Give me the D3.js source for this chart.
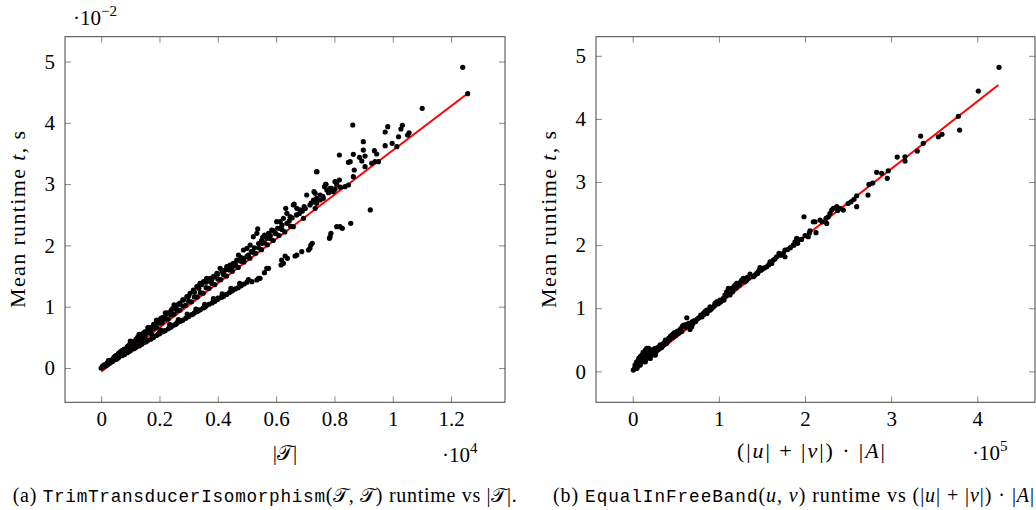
<!DOCTYPE html>
<html>
<head>
<meta charset="utf-8">
<script src="https://cdn.jsdelivr.net/npm/d3@7"></script>
<style>
body { margin: 0; background: #fff; }
svg { display: block; }
text { font-family: "Liberation Serif", serif; fill: #000; }
.mono { font-family: "Liberation Mono", monospace; font-size: 17.7px; }
</style>
</head>
<body>
<svg id="chart" width="1036" height="510"></svg>
<script>
// (a) |T| in units of 1e4, mean runtime in units of 1e-2 s
const runsA = [
  // lower branch, dense part
  [0.00,0.00],[0.01,0.02],[0.015,0.04],[0.02,0.05],[0.03,0.08],[0.035,0.10],[0.04,0.11],[0.05,0.14],
  [0.055,0.15],[0.06,0.17],[0.07,0.20],[0.075,0.21],[0.08,0.22],[0.09,0.25],[0.095,0.27],[0.10,0.28],
  [0.11,0.31],[0.115,0.32],[0.12,0.34],[0.13,0.36],[0.135,0.38],[0.14,0.39],[0.15,0.42],[0.155,0.43],
  [0.16,0.45],[0.17,0.47],[0.175,0.49],[0.18,0.50],[0.19,0.53],[0.195,0.55],[0.20,0.56],[0.21,0.59],
  [0.215,0.60],[0.22,0.61],[0.23,0.64],[0.235,0.66],[0.24,0.67],[0.25,0.70],[0.255,0.71],[0.26,0.73],
  [0.27,0.76],[0.275,0.77],[0.28,0.78],[0.29,0.81],[0.295,0.83],[0.30,0.84],[0.31,0.87],[0.315,0.88],
  [0.32,0.90],[0.33,0.92],[0.335,0.94],[0.34,0.95],[0.35,0.98],[0.355,0.99],[0.36,1.01],[0.37,1.04],
  [0.38,1.06],[0.385,1.08],[0.39,1.09],[0.40,1.12],[0.41,1.15],[0.415,1.16],[0.42,1.17],[0.43,1.20],
  [0.44,1.23],[0.445,1.25],[0.45,1.26],[0.46,1.29],[0.47,1.31],[0.48,1.34],[0.49,1.37],[0.50,1.40],
  [0.05,0.16],[0.12,0.36],[0.20,0.58],[0.26,0.74],[0.33,0.95],[0.40,1.14],[0.45,1.28],
  [0.025,0.12],[0.055,0.20],[0.085,0.29],[0.115,0.37],[0.145,0.46],[0.175,0.54],[0.205,0.62],
  [0.235,0.71],[0.265,0.79],[0.295,0.88],[0.325,0.96],[0.355,1.04],[0.385,1.13],[0.415,1.21],
  [0.445,1.30],[0.475,1.38],[0.505,1.44],
  // lower branch, sparse part
  [0.517,1.408],[0.534,1.436],[0.540,1.463],[0.545,1.463],[0.560,1.555],[0.568,1.626],[0.574,1.626],
  [0.617,1.68],[0.619,1.762],[0.625,1.708],[0.631,1.827],[0.639,1.789],[0.665,1.827],[0.671,1.843],
  [0.688,1.897],[0.711,1.925],[0.716,1.953],[0.719,2.006],[0.724,2.034],[0.783,2.116],[0.785,2.142],
  [0.788,2.197],[0.808,2.305],[0.819,2.305],[0.827,2.279],[0.856,2.36],[0.923,2.578],
  // upper branch, dense part
  [0.005,0.03],[0.01,0.05],[0.02,0.08],[0.025,0.10],[0.03,0.12],[0.04,0.15],[0.045,0.18],[0.05,0.20],
  [0.06,0.23],[0.065,0.26],[0.07,0.28],[0.075,0.29],[0.08,0.31],[0.09,0.35],[0.095,0.37],[0.10,0.40],
  [0.105,0.41],[0.11,0.43],[0.12,0.47],[0.125,0.50],[0.13,0.51],[0.14,0.55],[0.145,0.57],[0.15,0.59],
  [0.16,0.62],[0.165,0.65],[0.17,0.66],[0.18,0.71],[0.185,0.72],[0.19,0.74],[0.20,0.78],[0.205,0.81],
  [0.21,0.82],[0.22,0.86],[0.225,0.89],[0.23,0.90],[0.24,0.94],[0.245,0.97],[0.25,0.98],[0.26,1.02],
  [0.265,1.04],[0.27,1.06],[0.28,1.11],[0.10,0.44],[0.13,0.55],[0.16,0.66],[0.19,0.78],[0.22,0.90],
  [0.25,1.03],
  [0.05,0.17],[0.07,0.24],[0.09,0.32],[0.11,0.38],[0.13,0.46],[0.15,0.52],[0.17,0.60],[0.19,0.66],
  [0.21,0.74],[0.23,0.80],[0.25,0.88],[0.27,0.94],[0.29,1.02],[0.31,1.08],[0.33,1.16],[0.35,1.22],
  [0.37,1.30],[0.39,1.36],[0.41,1.44],[0.43,1.50],[0.45,1.58],[0.47,1.64],[0.49,1.73],[0.51,1.79],
  [0.53,1.87],[0.55,1.93],[0.57,2.01],[0.59,2.08],[0.61,2.16],[0.63,2.22],[0.65,2.31],
  [0.06,0.24],[0.08,0.30],[0.10,0.37],[0.12,0.44],[0.14,0.51],[0.16,0.58],[0.18,0.65],[0.20,0.73],
  [0.22,0.80],[0.24,0.87],[0.26,0.94],[0.28,1.01],[0.30,1.09],[0.32,1.16],[0.34,1.23],[0.36,1.31],
  [0.38,1.38],[0.40,1.45],[0.42,1.52],[0.44,1.60],[0.46,1.67],[0.48,1.74],[0.50,1.82],[0.52,1.89],
  [0.54,1.96],[0.56,2.04],[0.58,2.11],[0.60,2.19],[0.62,2.26],
  [0.282,1.109],[0.294,1.163],[0.305,1.218],[0.316,1.272],[0.328,1.326],[0.339,1.381],[0.351,1.408],
  [0.362,1.463],[0.374,1.463],[0.385,1.489],[0.397,1.545],[0.408,1.626],[0.425,1.599],[0.431,1.653],
  [0.442,1.68],[0.453,1.708],[0.465,1.762],[0.471,1.843],[0.505,1.843],[0.488,1.925],[0.5,1.953],
  [0.30,1.17],[0.32,1.24],[0.335,1.30],[0.345,1.36],[0.36,1.40],[0.37,1.42],[0.38,1.45],[0.39,1.50],
  [0.40,1.53],[0.415,1.58],[0.42,1.55],[0.435,1.62],[0.45,1.65],[0.46,1.70],[0.475,1.75],[0.48,1.80],
  [0.49,1.79],[0.515,1.90],[0.525,1.96],[0.54,2.03],[0.55,2.08],[0.56,2.17],[0.58,2.16],[0.59,2.24],
  [0.605,2.28],[0.62,2.33],[0.645,2.40],[0.655,2.45],[0.67,2.50],[0.68,2.52],[0.69,2.56],[0.70,2.60],
  [0.72,2.69],[0.74,2.76],[0.76,2.80],[0.78,2.86],[0.79,2.93],[0.82,2.95],
  // upper branch, spread part
  [0.511,2.006],[0.551,2.034],[0.522,2.142],[0.534,2.197],[0.537,2.268],[0.554,2.132],[0.568,2.116],
  [0.574,2.197],[0.597,2.197],[0.585,2.251],[0.614,2.279],[0.602,2.387],[0.614,2.387],[0.659,2.305],
  [0.637,2.360],[0.625,2.442],[0.648,2.468],[0.637,2.524],[0.633,2.605],[0.696,2.631],[0.682,2.578],
  [0.671,2.605],[0.662,2.675],[0.716,2.659],[0.739,2.687],[0.751,2.741],[0.728,2.741],[0.705,2.822],
  [0.734,2.85],[0.796,2.876],[0.808,2.985],[0.802,3.04],[0.774,2.904],[0.770,2.997],[0.739,3.203],
  [0.730,2.876],[0.762,2.768],[0.739,2.768],[0.728,2.713],[0.734,2.605],[0.659,2.659],[0.671,2.496],
  [0.694,2.442],[0.751,2.822],
  [0.817,3.067],[0.808,3.029],[0.848,2.985],[0.836,2.958],[0.771,2.997],[0.766,2.958],[0.785,2.931],
  [0.802,2.915],[0.865,3.121],[0.740,3.203],[0.868,3.230],[0.905,3.284],[0.928,3.339],[0.939,3.366],
  [0.951,3.366],[0.848,3.356],[0.854,3.366],[0.886,3.437],[0.905,3.458],[0.894,3.377],[0.817,3.475],
  [0.865,3.486],[0.937,3.545],[0.945,3.491],[0.899,3.556],[0.998,3.666],[1.014,3.610],[0.974,3.627],
  [0.899,3.692],[1.020,3.773],[0.974,3.85],[1.056,3.838],[1.051,3.801],[1.033,3.959],[1.028,3.899],
  [0.983,3.937],[0.863,3.964],[1.101,4.236],[1.240,4.905],[1.257,4.475]
];
const fitA = { intercept: -0.06, slope: 3.61, from: 0, to: 1.257 };
const xTicksA = [0, 0.2, 0.4, 0.6, 0.8, 1, 1.2];
const yTicksA = [0, 1, 2, 3, 4, 5];

// (b) (|u|+|v|)*|A| in units of 1e5, mean runtime in s
const runsB = [
  [0.007,0.02],[0.027,0.10],[0.03,0.073],[0.046,0.152],[0.05,0.048],[0.07,0.127],[0.07,0.206],
  [0.085,0.206],[0.088,0.10],[0.108,0.179],[0.108,0.258],[0.123,0.258],[0.143,0.311],[0.147,0.338],
  [0.147,0.231],[0.147,0.152],[0.163,0.364],[0.174,0.338],[0.181,0.285],[0.185,0.364],[0.185,0.258],
  [0.204,0.206],[0.224,0.311],[0.239,0.349],[0.263,0.364],[0.263,0.258],[0.279,0.364],[0.301,0.39],
  [0.337,0.38],[0.340,0.417],[0.379,0.496],[0.395,0.444],[0.413,0.496],[0.418,0.523],[0.433,0.539],
  [0.456,0.575],[0.471,0.591],[0.495,0.602],[0.511,0.628],[0.549,0.654],[0.553,0.654],[0.592,0.707],
  [0.596,0.734],[0.628,0.85],[0.650,0.761],[0.665,0.665],[0.685,0.707],[0.688,0.786],[0.746,0.824],
  [0.804,0.865],[0.820,0.919],[0.859,0.971],[0.862,0.919],[0.898,1.024],[0.901,0.971],[0.936,1.024],
  [0.955,1.077],[0.975,1.103],[0.998,1.078],[1.013,1.130],[1.037,1.130],[1.052,1.157],[1.071,1.21],
  [1.091,1.262],[1.110,1.315],[1.114,1.236],[1.129,1.21],[1.149,1.315],[1.187,1.368],[1.207,1.395],
  [1.226,1.395],[1.265,1.447],[1.284,1.474],[1.303,1.420],[1.342,1.474],[1.362,1.542],[1.420,1.526],
  [1.439,1.553],[1.458,1.578],[1.478,1.643],[1.497,1.605],[1.516,1.632],[1.555,1.658],[1.594,1.737],
  [1.614,1.711],[1.632,1.764],[1.671,1.816],[1.698,1.870],[1.748,1.870],[1.768,1.922],[1.768,1.816],
  [1.864,2.002],[1.884,2.054],[1.904,2.108],[1.915,2.029],[1.922,2.092],[1.988,2.45],[2.038,2.133],
  [2.058,2.228],[2.096,2.371],[2.116,2.371],[2.128,2.197],[2.174,2.398],[2.244,2.425],[2.252,2.345],
  [2.29,2.504],[2.31,2.556],[2.329,2.583],[2.368,2.609],[2.406,2.583],[2.445,2.556],[2.534,2.688],
  [2.569,2.726],[2.6,2.783],[2.6,2.609],[2.731,2.794],[2.743,2.963],[2.786,2.984],[2.832,3.154],
  [2.89,3.138],[2.955,3.059],[2.967,3.179],[3.071,3.396],[3.161,3.401],[3.161,3.333],[3.304,3.491],
  [3.343,3.729],[3.373,3.613],[3.548,3.718],[3.590,3.756],[3.780,4.041],[3.795,3.824],[4.012,4.442],
  [4.252,4.818],
  [0.02,0.04],[0.035,0.06],[0.04,0.12],[0.055,0.09],[0.06,0.16],[0.075,0.10],[0.08,0.15],[0.09,0.24],
  [0.095,0.14],[0.10,0.20],[0.115,0.17],[0.12,0.30],[0.13,0.22],[0.135,0.19],[0.155,0.27],[0.16,0.21],
  [0.17,0.30],[0.195,0.24],[0.20,0.33],[0.215,0.27],[0.23,0.26],[0.25,0.30],[0.27,0.31],[0.29,0.34],
  [0.31,0.36],[0.32,0.42],[0.35,0.41],[0.36,0.45],[0.37,0.43],[0.40,0.47],[0.43,0.50],[0.44,0.56],
  [0.47,0.54],[0.48,0.61],[0.50,0.57],[0.52,0.64],[0.53,0.60],[0.56,0.68],[0.57,0.63],[0.58,0.72],
  [0.61,0.70],[0.62,0.74],[0.64,0.72],[0.67,0.74],[0.70,0.76],[0.71,0.80],[0.73,0.79],[0.76,0.84],
  [0.78,0.86],[0.79,0.89],[0.83,0.90],[0.84,0.95],[0.88,0.97],[0.92,1.00],[0.95,1.04],[0.99,1.07],
  [1.02,1.10],[1.06,1.13],[1.08,1.19],[1.12,1.22],[1.16,1.26],[1.17,1.33],[1.20,1.32],[1.24,1.37],
  [1.25,1.41],[1.32,1.44],[1.33,1.49],[1.40,1.50],[1.45,1.55],[1.47,1.60],[1.53,1.64],[1.58,1.69],
  [1.65,1.78],[1.72,1.84],[1.80,1.93],[1.83,1.96],[1.87,2.00],[1.96,2.09],[2.00,2.15],[2.05,2.19],
  [2.20,2.37],[2.27,2.45],[2.38,2.55],[2.50,2.66]
];
const fitB = { intercept: 0, slope: 1.069, from: 0, to: 4.244 };
const xTicksB = [0, 1, 2, 3, 4];
const yTicksB = [0, 1, 2, 3, 4, 5];

const svg = d3.select("#chart");

function style_axis(g) {
  g.select(".domain").remove();
  g.attr("font-size", 21).attr("font-family", "Liberation Serif, serif");
  g.selectAll(".tick line").attr("stroke", "#888");
}

function draw_panel(p) {
  let x = d3.scaleLinear().domain(p.xDomain).range([p.left, p.right]);
  let y = d3.scaleLinear().domain(p.yDomain).range([p.bottom, p.top]);
  let g = svg.append("g");
  let fmt = d => String(d);

  g.append("g").attr("transform", `translate(0,${p.bottom})`)
    .call(d3.axisBottom(x).tickValues(p.xTicks).tickSize(-6).tickPadding(9).tickFormat(fmt))
    .call(style_axis);
  g.append("g").attr("transform", `translate(0,${p.top})`)
    .call(d3.axisTop(x).tickValues(p.xTicks).tickSize(-6).tickFormat(""))
    .call(style_axis);
  g.append("g").attr("transform", `translate(${p.left},0)`)
    .call(d3.axisLeft(y).tickValues(p.yTicks).tickSize(-6).tickPadding(10).tickFormat(fmt))
    .call(style_axis);
  g.append("g").attr("transform", `translate(${p.right},0)`)
    .call(d3.axisRight(y).tickValues(p.yTicks).tickSize(-6).tickFormat(""))
    .call(style_axis);

  let line = d3.line().x(d => x(d)).y(d => y(p.fit.intercept + p.fit.slope * d));
  g.append("path").datum([p.fit.from, p.fit.to])
    .attr("d", line).attr("fill", "none").attr("stroke", "#ff0000").attr("stroke-width", 2);

  g.append("g").selectAll("circle")
    .data(p.runs).enter()
    .append("circle")
    .attr("cx", d => x(d[0])).attr("cy", d => y(d[1]))
    .attr("r", 2.6).attr("fill", "#000");

  g.append("rect")
    .attr("x", p.left).attr("y", p.top)
    .attr("width", p.right - p.left).attr("height", p.bottom - p.top)
    .attr("fill", "none").attr("stroke", "#444").attr("stroke-width", 1);

  // y label
  let yl = g.append("text")
    .attr("transform", `translate(${p.yLabelX},${(p.top + p.bottom) / 2}) rotate(-90)`)
    .attr("text-anchor", "middle").attr("font-size", 22)
    .attr("textLength", 177).attr("lengthAdjust", "spacing");
  yl.append("tspan").text("Mean runtime ");
  yl.append("tspan").attr("font-style", "italic").text("t");
  yl.append("tspan").text(", s");
  return g;
}

function multiplier(x, y, exp) {
  let t = svg.append("text").attr("x", x).attr("y", y).attr("font-size", 21);
  t.append("tspan").text("\u00b710");
  t.append("tspan").attr("font-size", 15).attr("dy", -9).text(exp);
}

draw_panel({
  runs: runsA, fit: fitA, xTicks: xTicksA, yTicks: yTicksA,
  xDomain: [-0.124, 1.385], yDomain: [-0.56, 5.405],
  left: 65, right: 505, top: 36.7, bottom: 402.3, yLabelX: 25
});
draw_panel({
  runs: runsB, fit: fitB, xTicks: xTicksB, yTicks: yTicksB,
  xDomain: [-0.426, 4.67], yDomain: [-0.49, 5.303],
  left: 596, right: 1035, top: 36.7, bottom: 402.3, yLabelX: 556
});

multiplier(73, 25, "\u22122");
multiplier(442, 462, "4");
multiplier(972, 460, "5");

// x labels
let xa = svg.append("text").attr("x", 285).attr("y", 460).attr("text-anchor", "middle").attr("font-size", 21);
xa.append("tspan").text("|\ud835\udcaf|");

let xb = svg.append("text").attr("x", 811).attr("y", 458).attr("text-anchor", "middle").attr("font-size", 22)
  .attr("textLength", 148).attr("lengthAdjust", "spacing");
xb.append("tspan").text("(|");
xb.append("tspan").attr("font-style", "italic").text("u");
xb.append("tspan").text("| + |");
xb.append("tspan").attr("font-style", "italic").text("v");
xb.append("tspan").text("|) \u00b7 |");
xb.append("tspan").attr("font-style", "italic").text("A");
xb.append("tspan").text("|");

// captions
let ca = svg.append("text").attr("x", 12.7).attr("y", 502).attr("font-size", 20)
  .attr("textLength", 504).attr("lengthAdjust", "spacing");
ca.append("tspan").text("(a) ");
ca.append("tspan").attr("class", "mono").text("TrimTransducerIsomorphism");
ca.append("tspan").text("(\ud835\udcaf, \ud835\udcaf) runtime vs |\ud835\udcaf|.");

let cb = svg.append("text").attr("x", 553).attr("y", 502).attr("font-size", 20)
  .attr("textLength", 481).attr("lengthAdjust", "spacing");
cb.append("tspan").text("(b) ");
cb.append("tspan").attr("class", "mono").text("EqualInFreeBand");
cb.append("tspan").text("(");
cb.append("tspan").attr("font-style", "italic").text("u");
cb.append("tspan").text(", ");
cb.append("tspan").attr("font-style", "italic").text("v");
cb.append("tspan").text(") runtime vs (|");
cb.append("tspan").attr("font-style", "italic").text("u");
cb.append("tspan").text("| + |");
cb.append("tspan").attr("font-style", "italic").text("v");
cb.append("tspan").text("|) \u00b7 |");
cb.append("tspan").attr("font-style", "italic").text("A");
cb.append("tspan").text("|");
</script>
</body>
</html>
